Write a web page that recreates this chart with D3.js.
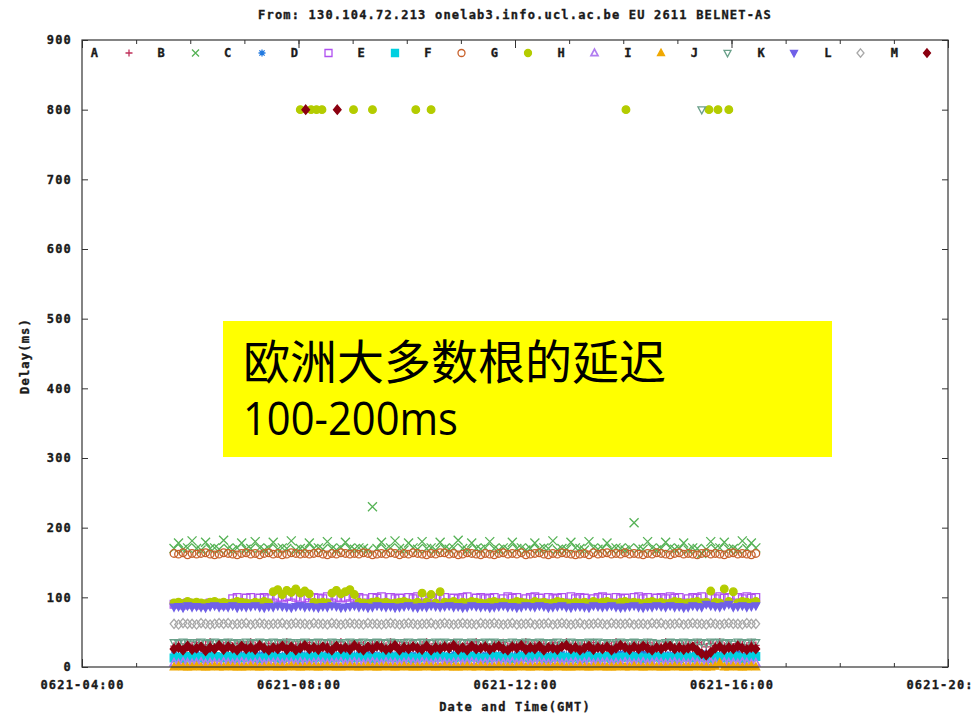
<!DOCTYPE html>
<meta charset="utf-8">
<style>
    body { margin: 0; background: #fff; }
    text.mono {
        font-family: "DejaVu Sans Mono", monospace;
        font-weight: bold;
        font-size: 12px;
        letter-spacing: 1.2px;
        fill: #1a1a1a;
        stroke: #1a1a1a;
        stroke-width: 0.35px;
    }
</style>

<svg id="chart" width="973" height="714"></svg>

<script src="https://cdn.jsdelivr.net/npm/d3@7"></script>

<script>
    // ---- data ----
    var titleText = "From: 130.104.72.213 onelab3.info.ucl.ac.be EU 2611 BELNET-AS";
    var xTitle = "Date and Time(GMT)";
    var yTitle = "Delay(ms)";

    var xDomain = ["0621-04:00", "0621-20:00"];
    var xTicks = ["0621-04:00", "0621-08:00", "0621-12:00", "0621-16:00", "0621-20:00"];
    var yTicks = [0, 100, 200, 300, 400, 500, 600, 700, 800, 900];

    var seriesNames = ["A", "B", "C", "D", "E", "F", "G", "H", "I", "J", "K", "L", "M"];
    var seriesColors = ["#c0305a", "#55b255", "#1f78e0", "#b050f0", "#00d0e0", "#c8602a", "#b4cc00",
                        "#b07cf0", "#f0a800", "#6aa08a", "#7060e8", "#a8a8a8", "#8b0010"];
    var seriesShapes = ["plus", "cross", "star", "square", "squareFill", "circle", "circleFill",
                        "triUp", "triUpFill", "triDown", "triDownFill", "diamond", "diamondFill"];

    // samples every 5 minutes starting at 05:42
    var startTime = "0621-05:42", stepMinutes = 5;

    var delayA = [30,34,29,33,31,35,30,32,36,29,
                  33,31,35,30,34,29,32,36,31,33,
                  30,34,29,33,31,36,30,32,34,29,
                  35,31,33,30,34,32,29,36,31,33,
                  30,35,32,29,34,31,33,30,36,29,
                  32,35,31,33,30,32,36,29,34,31,
                  33,30,35,32,29,34,31,36,30,33,
                  29,34,31,35,30,33,32,29,36,31,
                  34,30,33,29,35,31,32,36,30,34,
                  31,33,29,35,32,30,34,31,36,29,
                  33,30,34,32,29,35,31,33,30,36,
                  32,29,34,31,33,30,35,32,29,34,
                  31,36,30,33,29,34,32,30,35,31];
    var delayB = [170,178,169,171,181,170,168,179,170,171,
                  169,182,170,168,171,178,169,170,180,171,
                  168,170,179,169,171,170,181,168,170,169,
                  178,170,171,169,180,170,168,171,179,170,
                  169,171,170,168,230,170,179,169,171,181,
                  170,168,178,171,169,180,170,171,168,179,
                  170,169,171,182,170,168,178,170,169,171,
                  180,170,168,171,169,179,170,171,168,170,
                  178,169,171,170,181,168,170,169,179,171,
                  170,168,180,171,169,170,178,169,171,170,
                  168,171,207,170,169,180,171,168,170,179,
                  171,169,170,178,168,171,170,163,169,180,
                  170,171,179,169,170,168,181,170,178,171];
    var delayC = [18,17,19,16,18,20,17,18,19,17,
                  16,19,18,17,20,18,16,19,17,18,
                  20,17,18,19,16,18,17,19,20,17,
                  18,16,19,17,18,20,17,18,19,16,
                  17,18,20,19,17,18,16,19,18,17,
                  20,19,17,18,16,20,18,17,19,18,
                  17,16,19,18,20,17,18,19,16,18,
                  19,17,18,20,17,16,18,19,17,20,
                  18,19,16,17,18,20,19,17,18,16,
                  17,18,20,19,16,18,17,19,18,20,
                  19,16,18,17,20,18,19,17,16,18,
                  18,20,17,19,18,16,17,18,20,19,
                  16,18,19,17,18,20,17,16,19,18];
    var delayD = [90,91,89,92,90,91,89,90,92,91,
                  90,89,91,98,100,92,99,100,91,99,
                  100,98,92,100,99,101,92,100,98,99,
                  92,100,99,98,101,92,100,99,100,91,
                  99,100,98,92,100,99,101,92,100,98,
                  99,92,100,98,101,99,92,100,99,98,
                  100,92,99,98,100,101,92,99,100,98,
                  99,100,92,98,101,99,100,92,98,100,
                  101,99,92,100,98,99,100,92,101,98,
                  100,99,92,98,100,101,99,92,100,98,
                  99,92,100,101,98,100,92,99,100,98,
                  101,99,100,92,98,100,99,101,92,100,
                  98,101,99,100,92,100,98,101,99,100];
    var delayE = [13,14,12,15,13,14,13,12,14,15,
                  14,13,15,12,14,13,14,15,13,12,
                  13,15,14,13,12,14,15,13,14,13,
                  14,13,15,14,12,13,14,15,13,14,
                  13,14,15,13,12,14,13,15,14,13,
                  15,13,14,12,13,15,14,13,14,15,
                  14,12,13,15,14,13,15,14,12,13,
                  13,15,14,13,14,12,13,15,14,13,
                  15,14,13,12,14,15,13,14,13,15,
                  12,13,15,14,13,14,15,12,13,14,
                  14,15,13,14,12,13,14,15,13,14,
                  13,14,12,15,14,13,15,14,13,12,
                  15,13,14,13,15,14,12,13,14,15];
    var delayF = [163,162,164,161,163,162,163,164,162,161,
                  162,164,163,162,161,163,164,162,163,161,
                  163,164,162,163,161,162,164,163,162,163,
                  162,163,164,162,161,163,162,164,163,162,
                  163,162,164,163,161,162,163,162,164,163,
                  161,163,162,164,163,162,161,163,162,164,
                  164,162,163,161,162,164,163,162,161,163,
                  162,161,163,164,162,163,162,164,161,162,
                  163,164,162,161,163,162,164,163,162,161,
                  162,163,161,164,162,163,164,162,163,162,
                  164,162,163,162,161,163,162,164,163,162,
                  161,163,164,162,163,162,161,163,164,162,
                  163,162,161,163,164,162,163,162,161,163];
    var delayG = [92,93,91,94,92,93,92,91,93,94,
                  92,93,91,92,94,93,92,91,93,92,
                  94,92,108,111,104,110,107,112,106,109,
                  105,93,92,93,92,106,110,105,108,111,
                  104,93,92,91,93,94,92,93,91,92,
                  93,94,92,91,93,106,93,104,92,108,
                  93,92,94,91,93,92,94,93,92,91,
                  93,94,92,93,91,92,94,93,92,91,
                  94,92,93,91,92,94,93,92,91,93,
                  92,93,91,94,92,93,94,92,91,93,
                  94,92,93,92,91,93,94,92,93,91,
                  92,94,93,91,92,93,94,92,93,109,
                  93,92,112,94,108,92,94,93,92,94];
    var delayH = [6,5,7,6,5,6,7,5,6,6,
                  5,7,6,5,6,7,6,5,6,7,
                  5,6,6,7,5,6,6,5,7,6,
                  5,6,7,6,5,6,6,7,5,6,
                  7,6,5,6,7,6,5,7,6,6,
                  5,6,7,6,5,7,6,5,6,7,
                  6,5,6,7,5,6,7,6,5,6,
                  7,6,5,6,6,7,5,6,7,5,
                  6,7,6,5,6,7,5,6,6,7,
                  5,6,7,5,6,6,7,5,6,5,
                  7,6,5,6,7,5,6,7,6,5,
                  6,7,5,6,5,7,6,6,5,7,
                  6,5,7,6,6,5,7,6,5,6];
    var delayI = [0,1,0,0,0,1,0,0,0,1,
                  0,0,1,0,0,0,0,1,0,0,
                  0,1,0,0,0,0,1,0,0,0,
                  1,0,0,0,1,0,0,0,0,1,
                  0,0,0,1,0,0,0,1,0,0,
                  0,1,0,0,0,0,1,0,0,0,
                  1,0,0,0,0,1,0,0,1,0,
                  0,0,1,0,0,0,0,1,0,0,
                  0,1,0,0,0,1,0,0,0,0,
                  1,0,0,0,1,0,0,0,0,1,
                  0,0,1,0,0,0,1,0,0,0,
                  0,1,0,0,0,0,1,0,0,0,
                  1,6,0,0,1,0,0,0,1,0];
    var delayJ = [35,34,36,35,33,35,36,34,35,36,
                  34,35,36,34,35,33,36,35,34,36,
                  35,34,36,35,34,36,35,33,35,36,
                  34,35,36,35,34,36,35,33,35,36,
                  34,35,36,34,35,36,35,34,36,35,
                  33,35,36,34,35,36,35,34,36,35,
                  36,34,35,36,35,34,36,35,34,36,
                  35,36,34,35,33,36,35,34,36,35,
                  34,36,35,34,35,36,33,35,36,34,
                  35,34,36,35,36,34,35,33,35,36,
                  34,35,36,35,34,36,35,34,33,35,
                  36,35,34,36,35,34,36,35,34,36,
                  35,36,34,35,33,36,35,34,36,35];
    var delayK = [86,87,85,88,86,87,86,85,87,88,
                  86,87,86,88,85,87,86,87,88,86,
                  85,87,86,88,87,86,85,87,88,86,
                  87,86,85,87,86,88,87,85,86,87,
                  88,86,87,85,86,88,87,86,87,85,
                  86,87,88,86,85,87,86,88,87,86,
                  87,88,86,87,85,86,88,87,86,87,
                  85,86,87,88,86,87,85,86,88,87,
                  86,88,87,85,86,87,88,86,85,87,
                  87,86,85,88,87,86,87,88,86,85,
                  86,87,88,86,85,87,86,88,87,86,
                  88,86,87,85,86,88,87,86,90,88,
                  87,86,88,90,86,87,88,86,87,88];
    var delayL = [62,61,63,62,62,61,63,62,61,62,
                  63,62,63,61,62,62,63,61,62,63,
                  62,61,62,62,63,61,62,63,62,62,
                  61,63,62,62,61,63,62,61,62,63,
                  62,62,61,63,62,62,61,62,63,62,
                  61,62,63,62,61,62,62,63,61,62,
                  63,62,61,62,63,62,62,61,63,62,
                  62,63,62,61,62,63,61,62,62,63,
                  61,62,62,63,61,62,63,62,61,62,
                  63,61,62,62,63,62,61,63,62,62,
                  62,63,61,62,62,61,63,62,63,61,
                  62,62,63,61,62,63,62,62,61,63,
                  62,61,62,63,62,62,61,63,62,62];
    var delayM = [26,28,24,30,25,27,29,23,28,26,
                  31,25,29,27,24,30,26,28,25,31,
                  27,24,28,26,30,25,29,24,27,31,
                  26,28,25,29,27,24,30,26,28,25,
                  31,27,24,29,26,30,28,25,27,31,
                  24,28,26,29,27,25,30,24,28,26,
                  29,27,31,25,28,24,30,26,27,29,
                  25,28,30,26,24,29,27,31,25,28,
                  26,30,24,28,27,25,29,31,26,28,
                  24,27,30,25,28,26,29,24,27,31,
                  28,25,29,26,30,27,24,28,26,29,
                  30,26,28,25,27,29,24,19,17,21,
                  27,29,25,28,26,30,27,25,28,26];

    var seriesValues = [delayA, delayB, delayC, delayD, delayE, delayF, delayG,
                        delayH, delayI, delayJ, delayK, delayL, delayM];

    // probes that timed out, plotted at 800 ms
    var timeoutTimes = ["0621-08:02", "0621-08:14", "0621-08:20", "0621-08:26", "0621-09:01", "0621-09:22",
                        "0621-10:10", "0621-10:27", "0621-14:03", "0621-15:35", "0621-15:45", "0621-15:57",
                        "0621-15:27", "0621-08:08", "0621-08:43"];
    var timeoutSeries = ["G", "G", "G", "G", "G", "G", "G", "G", "G", "G", "G", "G", "J", "M", "M"];
    var timeoutDelay = 800;

    var noteLines = ["欧洲大多数根的延迟", "100-200ms"];

    // ---- layout ----
    var W = 973, H = 714;
    var margin = {top: 40, right: 25, bottom: 47, left: 82},
        width = W - margin.left - margin.right,
        height = H - margin.top - margin.bottom;

    var parseTime = d3.timeParse("%m%d-%H:%M");
    var fmtTime = d3.timeFormat("%m%d-%H:%M");

    var x = d3.scaleTime()
        .domain([parseTime(xDomain[0]), parseTime(xDomain[1])])
        .range([0, width]);

    var y = d3.scaleLinear()
        .domain([0, 900])
        .range([height, 0]);

    var root = d3.select("#chart");

    var svg = root.append("g")
        .attr("transform", "translate(" + margin.left + "," + margin.top + ")");

    function shapePath(type, s) {
        switch (type.replace("Fill", "")) {
            case "plus": return "M" + (-s) + ",0H" + s + "M0," + (-s) + "V" + s;
            case "cross": return "M" + (-s) + "," + (-s) + "L" + s + "," + s + "M" + (-s) + "," + s + "L" + s + "," + (-s);
            case "star":
                var c = s * 0.75;
                return "M" + (-s) + ",0H" + s + "M0," + (-s) + "V" + s +
                    "M" + (-c) + "," + (-c) + "L" + c + "," + c + "M" + (-c) + "," + c + "L" + c + "," + (-c);
            case "square": return "M" + (-s) + "," + (-s) + "H" + s + "V" + s + "H" + (-s) + "Z";
            case "circle": return "M" + s + ",0A" + s + "," + s + " 0 1,1 " + (-s) + ",0A" + s + "," + s + " 0 1,1 " + s + ",0Z";
            case "triUp": return "M0," + (-s * 1.1) + "L" + s + "," + (s * 0.75) + "L" + (-s) + "," + (s * 0.75) + "Z";
            case "triDown": return "M0," + (s * 1.1) + "L" + s + "," + (-s * 0.75) + "L" + (-s) + "," + (-s * 0.75) + "Z";
            case "diamond": return "M0," + (-s * 1.2) + "L" + s + ",0L0," + (s * 1.2) + "L" + (-s) + ",0Z";
        }
    }

    function styleMarker(sel, k) {
        var filled = seriesShapes[k].indexOf("Fill") >= 0;
        sel.attr("fill", filled ? seriesColors[k] : "none")
            .attr("stroke", seriesColors[k])
            .attr("stroke-width", seriesNames[k] == "H" ? 1.7 : 1.3);
    }

    function markerSize(k) {
        return seriesShapes[k] == "cross" ? 4.5 : 3.8;
    }

    // ---- axes (gnuplot style: inward ticks mirrored on all sides) ----
    var t0 = x.domain()[0], t1 = x.domain()[1];
    var hours = d3.timeHour.range(t0, d3.timeHour.offset(t1, 1));

    function noDomain(g) { g.select(".domain").remove(); g.selectAll("line").attr("stroke", "#333"); }

    svg.append("g").attr("transform", "translate(0," + height + ")")
        .call(d3.axisBottom(x).tickValues(hours).tickSize(-4).tickFormat(""))
        .call(noDomain);
    svg.append("g")
        .call(d3.axisTop(x).tickValues(hours).tickSize(-4).tickFormat(""))
        .call(noDomain);

    svg.append("g").attr("transform", "translate(0," + height + ")")
        .call(d3.axisBottom(x).tickValues(xTicks.map(parseTime)).tickSize(-8).tickPadding(13).tickFormat(fmtTime))
        .call(noDomain)
        .selectAll("text").attr("class", "mono");
    svg.append("g")
        .call(d3.axisTop(x).tickValues(xTicks.map(parseTime)).tickSize(-8).tickFormat(""))
        .call(noDomain);

    svg.append("g")
        .call(d3.axisLeft(y).tickValues(yTicks).tickSize(-6).tickPadding(10).tickFormat(d3.format("d")))
        .call(noDomain)
        .selectAll("text").attr("class", "mono");
    svg.append("g").attr("transform", "translate(" + width + ",0)")
        .call(d3.axisRight(y).tickValues(yTicks).tickSize(-6).tickFormat(""))
        .call(noDomain);

    // ---- points ----
    var tStart = parseTime(startTime);
    seriesValues.forEach(function(vals, k) {
        svg.append("g")
            .selectAll("path")
            .data(vals)
            .join("path")
            .attr("transform", function(d, i) {
                return "translate(" + x(d3.timeMinute.offset(tStart, i * stepMinutes)) + "," + y(d) + ")";
            })
            .attr("d", shapePath(seriesShapes[k], markerSize(k)))
            .call(styleMarker, k);
    });

    timeoutTimes.forEach(function(t, i) {
        var k = seriesNames.indexOf(timeoutSeries[i]);
        svg.append("path")
            .attr("transform", "translate(" + x(parseTime(t)) + "," + y(timeoutDelay) + ")")
            .attr("d", shapePath(seriesShapes[k], markerSize(k)))
            .call(styleMarker, k);
    });

    // frame drawn over the points, like gnuplot's border
    svg.append("rect")
        .attr("width", width)
        .attr("height", height)
        .attr("fill", "none")
        .attr("stroke", "#333")
        .attr("stroke-width", 1.2);

    // ---- key along the top ----
    var key = svg.append("g").attr("transform", "translate(0,13)");
    seriesNames.forEach(function(name, k) {
        key.append("text")
            .attr("class", "mono")
            .attr("x", 13 + k * 66.67)
            .attr("y", 4)
            .attr("text-anchor", "middle")
            .text(name);
        key.append("path")
            .attr("transform", "translate(" + (47 + k * 66.5) + ",0)")
            .attr("d", shapePath(seriesShapes[k], 3.5))
            .call(styleMarker, k);
    });

    // ---- titles ----
    root.append("text")
        .attr("class", "mono")
        .attr("x", 515)
        .attr("y", 19)
        .attr("text-anchor", "middle")
        .text(titleText);

    root.append("text")
        .attr("class", "mono")
        .attr("x", 515)
        .attr("y", 711)
        .attr("text-anchor", "middle")
        .text(xTitle);

    root.append("text")
        .attr("class", "mono")
        .attr("transform", "translate(29,356) rotate(-90)")
        .attr("text-anchor", "middle")
        .text(yTitle);

    // ---- yellow note box ----
    root.append("rect")
        .attr("x", 223)
        .attr("y", 321)
        .attr("width", 609)
        .attr("height", 136)
        .attr("fill", "#ffff00");

    root.append("text")
        .attr("x", 243)
        .attr("y", 379)
        .attr("font-family", "Noto Sans CJK SC")
        .attr("font-size", 47)
        .attr("fill", "#000")
        .text(noteLines[0]);

    root.append("text")
        .attr("x", 243)
        .attr("y", 435)
        .attr("font-family", "Open Sans")
        .attr("font-size", 45)
        .attr("fill", "#000")
        .attr("textLength", 215)
        .attr("lengthAdjust", "spacingAndGlyphs")
        .text(noteLines[1]);
</script>
